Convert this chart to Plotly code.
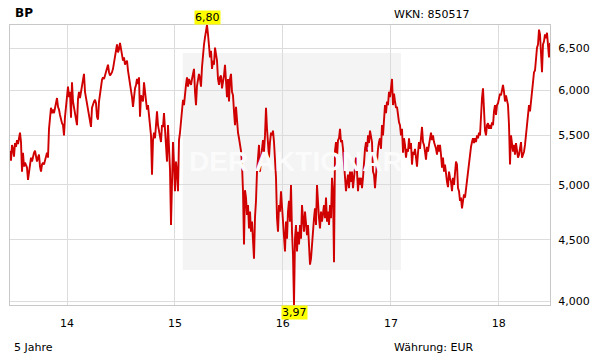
import math
import pandas as pd
import plotly.graph_objects as go

# ---------------- data ----------------
title_text = "BP"
wkn_text = "WKN: 850517"
period_text = "5 Jahre"
currency_text = "Währung: EUR"
watermark_text = "DER AKTIONÄR"

start_date = "2013-06-22"
end_date = "2018-06-23"

prices_2013_14 = [5.34, 5.24, 5.40, 5.36, 5.28, 5.42, 5.38, 5.45, 5.41, 5.50, 5.53, 5.43, 5.13, 5.32, 5.18, 5.22,
                  5.20, 5.17, 5.05, 5.12, 5.17, 5.27, 5.23, 5.30, 5.32, 5.34, 5.28, 5.23, 5.27, 5.30, 5.18, 5.13,
                  5.20, 5.22, 5.20, 5.26, 5.28, 5.32, 5.27, 5.57, 5.72, 5.80, 5.74, 5.78, 5.74, 5.80, 5.85, 5.91,
                  5.81, 5.78, 5.72, 5.67, 5.63, 5.61, 5.50, 5.70, 5.83, 5.87, 6.04, 5.92, 5.98, 5.69, 6.09, 5.87,
                  5.80, 5.72, 5.64, 5.61, 5.90, 5.98, 5.91, 6.02, 6.05, 6.12, 6.19, 5.98, 5.91, 5.87, 5.76, 5.70,
                  5.65, 5.59, 5.80, 5.85, 5.87, 5.89, 5.85, 5.70, 5.67, 5.87, 5.96, 6.05, 6.12, 6.15, 6.13, 6.17,
                  6.22, 6.25, 6.30, 6.21, 6.17, 6.19, 6.21, 6.25, 6.32, 6.38]
prices_2014_15 = [6.47, 6.55, 6.45, 6.49, 6.57, 6.51, 6.42, 6.35, 6.39, 6.30, 6.33, 6.35, 6.23, 6.15, 6.11, 6.04,
                  5.92, 5.81, 5.94, 6.02, 6.06, 6.13, 6.07, 6.15, 5.70, 5.94, 5.90, 5.87, 6.09, 5.96, 5.85, 5.78,
                  5.83, 5.70, 5.61, 5.50, 5.10, 5.45, 5.53, 5.47, 5.61, 5.76, 5.61, 5.55, 5.50, 5.43, 5.61, 5.59,
                  5.74, 5.53, 5.34, 5.23, 5.61, 5.30, 5.15, 4.63, 5.10, 5.43, 5.20, 4.94, 5.23, 5.13, 4.94, 5.45,
                  5.53, 5.68, 5.80, 5.89, 5.83, 6.00, 6.06, 6.15, 6.04, 6.13, 6.10, 6.06, 6.13, 6.21, 6.25, 5.98,
                  5.83, 6.05, 6.11, 6.19, 6.13, 6.04, 6.27, 6.45, 6.55, 6.64, 6.72, 6.80, 6.68, 6.55, 6.39, 6.47,
                  6.25, 6.35, 6.30, 6.51, 6.42, 6.35, 6.13, 6.06, 6.15, 6.17, 6.02, 6.09]
prices_2015_16 = [6.17, 6.30, 6.09, 5.92, 6.13, 5.87, 6.13, 6.19, 5.98, 5.94, 5.76, 5.61, 5.81, 5.64, 5.53, 5.47,
                  5.39, 5.34, 5.20, 4.94, 4.46, 4.95, 4.88, 4.72, 4.81, 4.60, 4.75, 4.57, 4.66, 4.51, 4.34, 4.70,
                  4.85, 5.13, 5.27, 5.40, 5.13, 5.30, 5.36, 5.45, 5.33, 5.50, 5.80, 5.57, 5.36, 5.27, 5.43, 5.53,
                  5.50, 5.55, 5.43, 5.27, 5.07, 4.69, 4.57, 4.81, 4.75, 4.94, 4.81, 4.69, 4.57, 4.40, 4.66, 4.51,
                  4.75, 4.85, 4.66, 5.00, 4.57, 4.37, 3.97, 4.51, 4.63, 4.40, 4.57, 4.46, 4.63, 4.51, 4.81, 4.69,
                  4.57, 4.75, 4.63, 4.54, 4.63, 4.40, 4.29, 4.34, 4.46, 4.63, 4.69, 4.78, 4.63, 5.00, 4.81, 4.69,
                  4.60, 4.75, 4.66, 4.75, 4.81, 4.69, 4.88, 4.66, 4.75, 4.63, 4.81, 4.69]
prices_2016_17 = [5.07, 4.94, 4.31, 5.34, 5.43, 5.27, 5.45, 5.47, 5.57, 5.43, 5.45, 5.36, 5.20, 5.13, 4.94, 5.03,
                  5.10, 4.97, 5.13, 5.03, 5.13, 4.97, 5.10, 5.20, 5.27, 5.13, 4.94, 5.07, 5.00, 5.07, 4.97, 5.07,
                  5.27, 5.36, 5.43, 5.33, 5.50, 5.42, 5.55, 5.50, 5.43, 5.13, 5.10, 4.97, 5.13, 5.20, 5.36, 5.43,
                  5.47, 5.36, 5.61, 5.50, 5.72, 5.83, 5.74, 5.87, 5.83, 5.98, 5.92, 6.02, 6.13, 5.83, 5.96, 5.87,
                  5.80, 5.81, 5.72, 5.64, 5.61, 5.50, 5.57, 5.32, 5.47, 5.40, 5.27, 5.36, 5.33, 5.47, 5.36, 5.42,
                  5.20, 5.33, 5.30, 5.36, 5.27, 5.18, 5.32, 5.43, 5.36, 5.53, 5.59, 5.43, 5.40, 5.33, 5.25, 5.38,
                  5.33, 5.40, 5.50, 5.53, 5.45, 5.50, 5.43, 5.40, 5.36, 5.30, 5.40, 5.33]
prices_2017_18 = [5.40, 5.30, 5.17, 5.27, 5.13, 5.20, 5.07, 5.03, 4.98, 5.13, 5.07, 5.03, 4.94, 5.07, 5.00, 5.17,
                  5.23, 5.20, 4.97, 4.94, 4.85, 4.88, 4.78, 4.85, 4.91, 4.88, 4.97, 5.07, 5.13, 5.20, 5.33, 5.38,
                  5.43, 5.47, 5.42, 5.47, 5.43, 5.50, 5.47, 5.53, 5.50, 5.80, 5.91, 6.02, 5.80, 5.55, 5.50, 5.61,
                  5.63, 5.57, 5.61, 5.57, 5.64, 5.61, 5.76, 5.83, 5.72, 5.83, 5.85, 5.91, 5.96, 5.94, 6.02, 6.06,
                  5.98, 5.87, 5.94, 5.87, 5.83, 5.61, 5.20, 5.50, 5.43, 5.33, 5.40, 5.30, 5.42, 5.36, 5.27, 5.30,
                  5.38, 5.43, 5.27, 5.30, 5.33, 5.40, 5.50, 5.67, 5.78, 5.83, 5.76, 5.91, 5.98, 6.09, 6.21, 6.23,
                  6.42, 6.51, 6.55, 6.74, 6.68, 6.47, 6.21, 6.55, 6.59, 6.68, 6.63, 6.70, 6.55, 6.39, 6.57]

y_tickvals = [4.0, 4.5, 5.0, 5.5, 6.0, 6.5]
y_ticktext = ["4,000", "4,500", "5,000", "5,500", "6,000", "6,500"]
x_tickvals = ["2014-01-01", "2015-01-01", "2016-01-01", "2017-01-01", "2018-01-01"]
x_ticktext = ["14", "15", "16", "17", "18"]

# ---------------- build ----------------
prices = prices_2013_14 + prices_2014_15 + prices_2015_16 + prices_2016_17 + prices_2017_18
dates = pd.date_range(start_date, end_date, periods=len(prices))

i_max = max(range(len(prices)), key=lambda i: prices[i])
i_min = min(range(len(prices)), key=lambda i: prices[i])
fmt = lambda v: f"{v:.2f}".replace(".", ",")

FONT = "DejaVu Sans"
GRID = "#dcdcdc"
EDGE = "#c8c8c8"

fig = go.Figure()
fig.add_trace(go.Scatter(
    x=dates, y=prices, mode="lines",
    line=dict(color="#d00000", width=1.9),
    hoverinfo="skip", showlegend=False,
))

annotations = [
    dict(text=f"<b>{title_text}</b>", xref="paper", yref="paper", x=0.005, y=1.043,
         xanchor="left", yanchor="middle", showarrow=False, font=dict(family=FONT, size=12, color="#000")),
    dict(text=wkn_text, xref="paper", yref="paper", x=0.7074, y=1.039,
         xanchor="left", yanchor="middle", showarrow=False, font=dict(family=FONT, size=11, color="#000")),
    dict(text=period_text, xref="paper", yref="paper", x=0.004, y=-0.15,
         xanchor="left", yanchor="middle", showarrow=False, font=dict(family=FONT, size=11, color="#000")),
    dict(text=currency_text, xref="paper", yref="paper", x=0.7074, y=-0.15,
         xanchor="left", yanchor="middle", showarrow=False, font=dict(family=FONT, size=11, color="#000")),
    dict(text=f"<b>{watermark_text}</b>", xref="paper", yref="paper", x=0.53, y=0.511,
         xanchor="center", yanchor="middle", showarrow=False,
         font=dict(family="Liberation Sans", size=28, color="#fbfbfb")),
    dict(text=fmt(prices[i_max]), xref="x", yref="paper", x=dates[i_max], y=1.0,
         xanchor="center", yanchor="bottom", showarrow=False, bgcolor="#ffff00", borderpad=0,
         font=dict(family=FONT, size=11, color="#000")),
    dict(text=fmt(prices[i_min]), xref="x", yref="paper", x=dates[i_min], y=0.0,
         xanchor="center", yanchor="top", showarrow=False, bgcolor="#ffff00", borderpad=0,
         font=dict(family=FONT, size=11, color="#000")),
]

fig.update_layout(
    width=611, height=364,
    margin=dict(l=10, r=61, t=25, b=59),
    paper_bgcolor="#ffffff", plot_bgcolor="#ffffff",
    showlegend=False,
    annotations=annotations,
    shapes=[dict(type="rect", xref="paper", yref="paper", x0=0.320, x1=0.724, y0=0.125, y1=0.90,
                 fillcolor="#f4f4f4", line=dict(width=0), layer="below")],
    xaxis=dict(
        type="date", range=[dates[0], dates[-1]],
        tickmode="array", tickvals=x_tickvals, ticktext=x_ticktext,
        showgrid=True, gridcolor=GRID, gridwidth=1,
        showline=True, linecolor=EDGE, linewidth=1, mirror=True,
        ticks="", ticklabelstandoff=8, zeroline=False,
        tickfont=dict(family=FONT, size=11, color="#000"),
    ),
    yaxis=dict(
        type="log", range=[math.log10(3.97), math.log10(6.80)], side="right",
        tickmode="array", tickvals=y_tickvals, ticktext=y_ticktext,
        showgrid=True, gridcolor=GRID, gridwidth=1,
        showline=True, linecolor=EDGE, linewidth=1, mirror=True,
        ticks="", ticklabelstandoff=5, zeroline=False,
        tickfont=dict(family=FONT, size=11, color="#000"),
    ),
)

fig.write_html("out.html")
